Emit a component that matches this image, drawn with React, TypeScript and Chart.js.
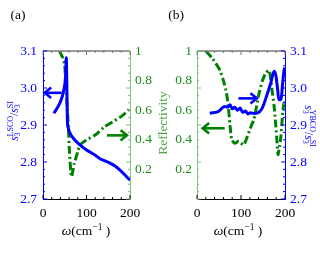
import React, { useEffect, useRef } from 'react';
import { Chart, registerables } from 'chart.js';

Chart.register(...registerables);

const BLUE = '#0000ff';
const GREEN = '#008000';
const GREEN_TEXT = '#1e8c1e';
const GREEN_LABEL = '#4aa64a';
const GREEN_AXIS = '#7cc07c';
const SERIF = '"Liberation Serif", "Times New Roman", serif';

// ---- tick labels ----
const omegaTicks = [0, 100, 200];
const ratioTicks = [2.7, 2.8, 2.9, 3.0, 3.1];
const reflTicks = [0, 0.2, 0.4, 0.6, 0.8, 1];

// ---- panel (a): LSCO ----
const lscoOmega = [25, 39, 47, 52, 53.5, 55, 56, 57.5, 62, 73.6, 85, 96.6, 108, 119.5, 131, 142.5, 154, 165.5, 177, 188.5, 200];
const lscoRatio = [2.932, 2.96, 2.99, 3.035, 3.082, 2.995, 2.914, 2.895, 2.878, 2.859, 2.846, 2.835, 2.827, 2.819, 2.809, 2.803, 2.797, 2.789, 2.778, 2.765, 2.751];
const lscoReflOmega = [38, 46, 50, 53, 56, 58.5, 61, 65.5, 72, 80, 85, 100, 120, 142, 154, 181, 196, 200];
const lscoRefl = [1.0, 0.95, 0.9, 0.75, 0.6, 0.47, 0.31, 0.15, 0.24, 0.32, 0.365, 0.40, 0.432, 0.489, 0.51, 0.56, 0.60, 0.615];

// ---- panel (b): YBCO ----
const ybcoOmega = [29, 48, 63, 70, 75, 80, 86, 92, 98, 104, 110, 116, 121, 130, 137, 148, 160, 168, 175, 179, 183, 186, 191, 195, 198, 200];
const ybcoRatio = [2.932, 2.936, 2.95, 2.948, 2.955, 2.944, 2.948, 2.94, 2.946, 2.934, 2.938, 2.93, 2.933, 2.931, 2.932, 2.945, 2.985, 3.015, 3.045, 3.035, 2.999, 2.968, 2.97, 3.017, 3.049, 3.055];
const ybcoReflOmega = [20, 35, 52, 60, 67, 71, 75, 79, 86, 95, 106, 117, 124, 129, 135, 140, 148, 156, 164, 171, 175, 179, 182, 184, 188, 191, 195, 198, 200];
const ybcoRefl = [1.0, 0.95, 0.87, 0.8, 0.716, 0.63, 0.5, 0.4, 0.376, 0.39, 0.365, 0.444, 0.5, 0.534, 0.62, 0.7, 0.793, 0.85, 0.87, 0.725, 0.635, 0.5, 0.38, 0.3, 0.36, 0.43, 0.59, 0.65, 0.62];

// ---- arrows: [fromOmega, toOmega, level] ----
const lscoRatioArrow = [43, 4, 2.987];
const lscoReflArrow = [147, 193, 0.43];
const ybcoRatioArrow = [94, 136, 2.972];
const ybcoReflArrow = [63, 13, 0.478];

type Seg = { t: string; size: number; dy?: number; italic?: boolean; stack?: boolean };

function drawRich(ctx: CanvasRenderingContext2D, segs: Seg[], cx: number, cy: number, rot: number, color: string, baseSize: number) {
  ctx.save();
  const font = (s: Seg) => `${s.italic ? 'italic ' : ''}${s.size}px ${SERIF}`;
  let x = 0;
  let held = 0;
  const pos = segs.map((s) => {
    ctx.font = font(s);
    const m = ctx.measureText(s.t).width;
    const p = x;
    if (s.stack) {
      held = m;
    } else {
      x += Math.max(m, held);
      held = 0;
    }
    return p;
  });
  const total = x;
  ctx.translate(cx, cy);
  ctx.rotate(rot);
  ctx.fillStyle = color;
  ctx.textAlign = 'left';
  ctx.textBaseline = 'alphabetic';
  const base = baseSize * 0.33;
  segs.forEach((s, i) => {
    ctx.font = font(s);
    ctx.fillText(s.t, pos[i] - total / 2, base + (s.dy || 0));
  });
  ctx.restore();
}

const omegaTitle: Seg[] = [
  { t: 'ω', size: 13.5, italic: true },
  { t: '(cm', size: 13.5 },
  { t: '−1', size: 9.5, dy: -5 },
  { t: ' )', size: 13.5 },
];

function ratioTitle(name: string): Seg[] {
  return [
    { t: 's', size: 11.5, italic: true },
    { t: '3', size: 8, dy: 2.5, stack: true },
    { t: name, size: 8, dy: -5 },
    { t: '/', size: 11.5 },
    { t: 's', size: 11.5, italic: true },
    { t: '3', size: 8, dy: 2.5, stack: true },
    { t: 'SI', size: 8, dy: -5 },
  ];
}

type PanelCfg = {
  label: string;
  labelX: number;
  omegaX: number;
  leftColor: string;
  rightColor: string;
  arrows: { arr: number[]; scale: string; color: string }[];
  titles: (ctx: CanvasRenderingContext2D) => void;
};

function drawArrow(ctx: CanvasRenderingContext2D, x1: number, x2: number, y: number, color: string) {
  const dir = Math.sign(x2 - x1);
  ctx.save();
  ctx.strokeStyle = color;
  ctx.lineWidth = 2.6;
  ctx.lineCap = 'butt';
  ctx.lineJoin = 'miter';
  ctx.beginPath();
  ctx.moveTo(x1, y);
  ctx.lineTo(x2, y);
  ctx.stroke();
  ctx.beginPath();
  const L = 8;
  ctx.moveTo(x2 - dir * L * 0.8, y - L * 0.65);
  ctx.lineTo(x2, y);
  ctx.lineTo(x2 - dir * L * 0.8, y + L * 0.65);
  ctx.stroke();
  ctx.restore();
}

function panelPlugin(cfg: PanelCfg) {
  return {
    id: 'panel' + cfg.label,
    afterDatasetsDraw(chart: any) {
      const ctx = chart.ctx as CanvasRenderingContext2D;
      const x = chart.scales.x;
      cfg.arrows.forEach((a) => {
        const ys = chart.scales[a.scale];
        drawArrow(ctx, x.getPixelForValue(a.arr[0]), x.getPixelForValue(a.arr[1]), ys.getPixelForValue(a.arr[2]), a.color);
      });
    },
    afterDraw(chart: any) {
      const ctx = chart.ctx as CanvasRenderingContext2D;
      const { left, right, top, bottom } = chart.chartArea;
      ctx.save();
      // top frame line
      ctx.strokeStyle = '#777';
      ctx.lineWidth = 1.5;
      ctx.beginPath();
      ctx.moveTo(left, top);
      ctx.lineTo(right, top);
      ctx.stroke();
      // inward ticks
      const x = chart.scales.x;
      ctx.lineWidth = 1;
      for (let v = 0; v <= 200; v += 20) {
        const px = x.getPixelForValue(v);
        const len = v % 100 === 0 ? 4 : 2;
        ctx.strokeStyle = '#000';
        ctx.beginPath();
        ctx.moveTo(px, bottom);
        ctx.lineTo(px, bottom - len);
        ctx.stroke();
        ctx.strokeStyle = '#777';
        ctx.beginPath();
        ctx.moveTo(px, top);
        ctx.lineTo(px, top + len);
        ctx.stroke();
      }
      const side = (id: string, color: string, xp: number, d: number) => {
        const s = chart.scales[id];
        const step = (s.max - s.min) / 20;
        ctx.strokeStyle = color;
        for (let i = 0; i <= 20; i++) {
          const py = s.getPixelForValue(s.min + i * step);
          const len = i % 5 === 0 ? 4 : 2;
          ctx.beginPath();
          ctx.moveTo(xp, py);
          ctx.lineTo(xp + d * len, py);
          ctx.stroke();
        }
      };
      side('yL', cfg.leftColor, left, 1);
      side('yR', cfg.rightColor, right, -1);
      ctx.restore();
      // texts
      ctx.save();
      ctx.fillStyle = '#000';
      ctx.font = `13.5px ${SERIF}`;
      ctx.textAlign = 'center';
      ctx.textBaseline = 'middle';
      ctx.fillText(cfg.label, cfg.labelX, 15);
      ctx.restore();
      drawRich(ctx, omegaTitle, cfg.omegaX, 231, 0, '#000', 13.5);
      cfg.titles(ctx);
    },
  };
}

const pts = (xs: number[], ys: number[]) => xs.map((v, i) => ({ x: v, y: ys[i] }));

function yScale(position: 'left' | 'right', kind: 'ratio' | 'refl', width: number, color: string, textColor: string, pad: number) {
  const vals = kind === 'ratio' ? ratioTicks : reflTicks;
  return {
    type: 'linear',
    position,
    min: kind === 'ratio' ? 2.7 : 0,
    max: kind === 'ratio' ? 3.1 : 1,
    grid: { display: false, drawTicks: false, tickLength: 0 },
    border: { display: true, color, width: 1 },
    afterBuildTicks: (s: any) => {
      s.ticks = vals.map((v) => ({ value: v }));
    },
    ticks: {
      color: textColor,
      font: { family: SERIF, size: 13.5 },
      padding: pad,
      autoSkip: false,
      callback: (v: any) => {
        const n = Number(v);
        if (kind === 'refl') {
          if (n === 0) return '';
          if (n === 1) return '1';
        }
        return n.toFixed(1);
      },
    },
    afterFit: (s: any) => {
      s.width = width;
    },
  };
}

function xScale() {
  return {
    type: 'linear',
    position: 'bottom',
    min: 0,
    max: 200,
    grid: { display: false, drawTicks: false, tickLength: 0 },
    border: { display: true, color: '#000', width: 1 },
    afterBuildTicks: (s: any) => {
      s.ticks = omegaTicks.map((v) => ({ value: v }));
    },
    ticks: {
      color: '#000',
      font: { family: SERIF, size: 13.5 },
      padding: 6,
      maxRotation: 0,
      autoSkip: false,
      callback: (v: any) => String(v),
    },
    afterFit: (s: any) => {
      s.height = 61;
    },
  };
}

function blueLine(xs: number[], ys: number[], axis: string) {
  return {
    data: pts(xs, ys),
    yAxisID: axis,
    borderColor: BLUE,
    borderWidth: 3,
    pointRadius: 0,
    fill: false,
    cubicInterpolationMode: 'monotone',
  };
}

function greenLine(xs: number[], ys: number[], axis: string) {
  return {
    data: pts(xs, ys),
    yAxisID: axis,
    borderColor: GREEN,
    borderWidth: 3,
    borderDash: [8, 3, 2, 3],
    pointRadius: 0,
    fill: false,
    tension: 0.2,
  };
}

export default function App() {
  const refA = useRef<HTMLCanvasElement>(null);
  const refB = useRef<HTMLCanvasElement>(null);

  useEffect(() => {
    const common = {
      responsive: false,
      animation: false,
      plugins: { legend: { display: false }, tooltip: { enabled: false } },
    };
    const chartA = new Chart(refA.current as HTMLCanvasElement, {
      type: 'line',
      data: {
        datasets: [blueLine(lscoOmega, lscoRatio, 'yL'), greenLine(lscoReflOmega, lscoRefl, 'yR')] as any,
      },
      options: {
        ...common,
        layout: { padding: { top: 51, left: 0, right: 0, bottom: 0 } },
        scales: {
          x: xScale(),
          yL: yScale('left', 'ratio', 43, BLUE, BLUE, 6),
          yR: yScale('right', 'refl', 190, GREEN_AXIS, GREEN_TEXT, 5),
        },
      } as any,
      plugins: [
        panelPlugin({
          label: '(a)',
          labelX: 18,
          omegaX: 86,
          leftColor: BLUE,
          rightColor: GREEN_AXIS,
          arrows: [
            { arr: lscoRatioArrow, scale: 'yL', color: BLUE },
            { arr: lscoReflArrow, scale: 'yR', color: GREEN },
          ],
          titles: (ctx) => {
            drawRich(ctx, ratioTitle('LSCO'), 14, 121, -Math.PI / 2, BLUE, 11.5);
          },
        }),
      ],
    });
    const chartB = new Chart(refB.current as HTMLCanvasElement, {
      type: 'line',
      data: {
        datasets: [blueLine(ybcoOmega, ybcoRatio, 'yR'), greenLine(ybcoReflOmega, ybcoRefl, 'yL')] as any,
      },
      options: {
        ...common,
        layout: { padding: { top: 51, left: 0, right: 0, bottom: 0 } },
        scales: {
          x: xScale(),
          yL: yScale('left', 'refl', 197, GREEN_AXIS, GREEN_TEXT, 5),
          yR: yScale('right', 'ratio', 35, BLUE, BLUE, 5),
        },
      } as any,
      plugins: [
        panelPlugin({
          label: '(b)',
          labelX: 176,
          omegaX: 238,
          leftColor: GREEN_AXIS,
          rightColor: BLUE,
          arrows: [
            { arr: ybcoRatioArrow, scale: 'yR', color: BLUE },
            { arr: ybcoReflArrow, scale: 'yL', color: GREEN },
          ],
          titles: (ctx) => {
            drawRich(ctx, [{ t: 'Reflectivity', size: 13.5 }], 163, 123, -Math.PI / 2, GREEN_LABEL, 13.5);
            drawRich(ctx, ratioTitle('YBCO'), 309, 126, Math.PI / 2, BLUE, 11.5);
          },
        }),
      ],
    });
    return () => {
      chartA.destroy();
      chartB.destroy();
    };
  }, []);

  const canvasStyle: React.CSSProperties = { position: 'absolute', left: 0, top: 0, width: 320, height: 260 };
  return (
    <div style={{ position: 'fixed', left: 0, top: 0, width: 320, height: 260, background: '#fff' }}>
      <canvas ref={refA} width={320} height={260} style={canvasStyle} />
      <canvas ref={refB} width={320} height={260} style={canvasStyle} />
    </div>
  );
}
